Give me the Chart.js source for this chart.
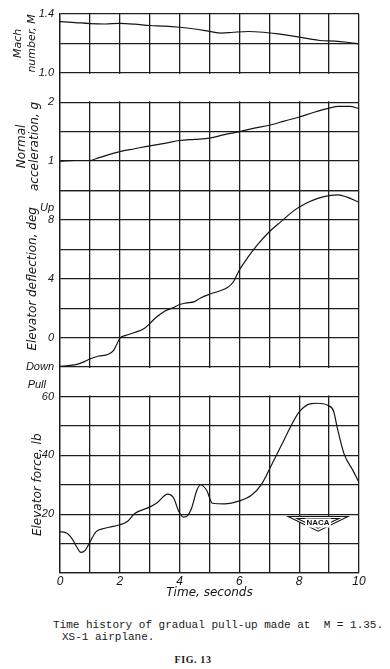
<!DOCTYPE html>
<html>
<head>
<meta charset="utf-8">
<script src="https://cdn.jsdelivr.net/npm/chart.js@4.4.1/dist/chart.umd.min.js"></script>
<style>
  body { margin: 0; background: #fff; }
  #wrap { position: relative; width: 390px; height: 669px; overflow: hidden; }
  #chart { position: absolute; left: 0; top: 0; }
  .caption { position: absolute; left: 53px; font-family: "Liberation Mono", monospace; font-size: 11px; line-height: 12px; color: #1a1a1a; white-space: pre; }
  .fig { position: absolute; left: 0; width: 386px; top: 654px; text-align: center; font-family: "Liberation Serif", serif; font-weight: bold; font-size: 10px; letter-spacing: 0.6px; color: #1a1a1a; }
</style>
</head>
<body>
<div id="wrap">
  <canvas id="chart" width="390" height="610"></canvas>
  <div class="caption" style="top:619px">Time history of gradual pull-up made at  M = 1.35.</div>
  <div class="caption" style="top:631px; left:62px">XS-1 airplane.</div>
  <div class="fig">FIG. 13</div>
</div>
<script>
// values
const timeMach = [0, 0.5, 1, 1.5, 2, 2.5, 3, 3.5, 4, 4.5, 5, 5.4, 5.8, 6.3, 6.8, 7.3, 7.8, 8.3, 8.7, 9.2, 9.6, 10];
const mach = [1.348, 1.342, 1.335, 1.332, 1.336, 1.331, 1.322, 1.318, 1.31, 1.298, 1.282, 1.27, 1.276, 1.281, 1.276, 1.265, 1.25, 1.232, 1.22, 1.216, 1.208, 1.197];

const timeAccel = [0, 0.5, 1, 1.2, 1.5, 2, 2.5, 3, 3.5, 4, 4.5, 5, 5.5, 6, 6.5, 7, 7.5, 8, 8.5, 9, 9.3, 9.7, 10];
const accel = [1.0, 1.01, 1.01, 1.04, 1.09, 1.16, 1.21, 1.26, 1.3, 1.35, 1.37, 1.39, 1.45, 1.5, 1.56, 1.61, 1.68, 1.75, 1.83, 1.9, 1.93, 1.93, 1.89];

const timeDefl = [0, 0.3, 0.6, 0.8, 1.0, 1.3, 1.6, 1.8, 1.9, 2.0, 2.2, 2.5, 2.8, 3.0, 3.2, 3.5, 3.8, 4.0, 4.2, 4.5, 4.7, 5.0, 5.3, 5.6, 5.8, 6.0, 6.3, 6.6, 7.0, 7.4, 7.8, 8.2, 8.6, 9.0, 9.3, 9.6, 10];
const defl = [-1.95, -1.9, -1.8, -1.65, -1.45, -1.25, -1.15, -0.85, -0.45, -0.05, 0.15, 0.35, 0.6, 0.95, 1.35, 1.8, 2.05, 2.25, 2.35, 2.45, 2.7, 2.95, 3.15, 3.4, 3.8, 4.6, 5.5, 6.3, 7.2, 7.9, 8.6, 9.1, 9.45, 9.65, 9.7, 9.55, 9.2];

const timeForce = [0, 0.2, 0.4, 0.55, 0.7, 0.85, 1.0, 1.2, 1.5, 2.0, 2.25, 2.5, 3.0, 3.25, 3.6, 3.8, 3.97, 4.13, 4.27, 4.4, 4.58, 4.7, 4.9, 5.1, 5.5, 6.0, 6.4, 6.75, 7.07, 7.4, 7.75, 8.0, 8.4, 8.6, 8.95, 9.15, 9.27, 9.5, 9.8, 10];
const force = [14, 13.7, 11.7, 9, 7, 7.8, 10.5, 14, 15.2, 16.4, 17.5, 20.2, 22.4, 23.9, 26.8, 25.5, 21, 19, 19.5, 22, 28.2, 30, 28.2, 23.7, 23.5, 24.5, 26.4, 30.3, 36.6, 43.3, 50.5, 54.8, 57.6, 57.7, 57, 55, 49.5, 40.5, 34.8, 30.8];

// which ticks get a label
const timeLabeled = [0, 2, 4, 6, 8, 10];
const machLabeled = [1.0, 1.4];
const accelLabeled = [1, 2];
const deflLabeled = [0, 4, 8];
const forceLabeled = [20, 40, 60];
const upTick = 8.8;     // "Up" sits just above the 8 deg line
const pullTick = 0.4;   // "Pull" sits in the gap band
const openBandTimes = [2, 4, 6, 10];  // vertical lines that run through the lower gap band

const ink = "#151515";
const gridColor = "#1e1e1e";
const tickFont = { family: "Liberation Sans", style: "italic", size: 11 };
const titleFont = { family: "DejaVu Sans", style: "italic", size: 12, lineHeight: 1.15 };

const has = (list, v) => list.some(m => Math.abs(m - v) < 1e-6);
const pts = (xs, ys) => xs.map((t, i) => ({ x: t, y: ys[i] }));

function panelAxis(extra) {
    return Object.assign({
        type: "linear",
        position: "left",
        stack: "panels",
        grid: { color: gridColor, lineWidth: 1.3, drawTicks: false },
        border: { color: gridColor, width: 1.3 },
        ticks: { color: ink, font: tickFont, padding: 6, autoSkip: false },
        afterFit: (axis) => { axis.width = 60; },
    }, extra);
}

const bandGaps = {
    id: "bandGaps",
    beforeDatasetsDraw(chart) {
        const { ctx, chartArea, scales } = chart;
        ctx.save();
        ctx.fillStyle = "#fff";
        const b1 = scales.band1;
        ctx.fillRect(chartArea.left + 1, b1.top + 1, chartArea.width - 2, b1.height - 2);
        const b2 = scales.band2;
        for (let t = 1; t < 10; t++) {
            if (openBandTimes.includes(t)) continue;
            const px = scales.x.getPixelForValue(t);
            ctx.fillRect(px - 2, b2.top + 1, 4, b2.height - 2);
        }
        ctx.restore();
    },
};

const nacaBadge = {
    id: "nacaBadge",
    afterDatasetsDraw(chart) {
        const { ctx, scales } = chart;
        const x = scales.x, y = scales.yForce;
        const l = x.getPixelForValue(7.63), r = x.getPixelForValue(9.63), m = x.getPixelForValue(8.63);
        const top = y.getPixelForValue(19.2), bot = y.getPixelForValue(14.2);
        ctx.save();
        ctx.fillStyle = "#fff";
        ctx.strokeStyle = ink;
        ctx.lineWidth = 1.1;
        ctx.beginPath();
        ctx.moveTo(l, top); ctx.lineTo(r, top); ctx.lineTo(m, bot); ctx.closePath();
        ctx.fill(); ctx.stroke();
        ctx.beginPath();
        ctx.moveTo(l + 9, top + 2); ctx.lineTo(r - 9, top + 2); ctx.lineTo(m, bot - 3); ctx.closePath();
        ctx.stroke();
        ctx.fillRect(m - 13, top + 2, 26, 9);
        ctx.fillStyle = ink;
        ctx.font = "bold 8px 'Liberation Sans'";
        ctx.textAlign = "center";
        ctx.textBaseline = "middle";
        ctx.fillText("NACA", m, top + 6.5);
        ctx.restore();
    },
};

const lineStyle = { borderColor: ink, borderWidth: 1.2, pointRadius: 0, fill: false, cubicInterpolationMode: "monotone" };

new Chart(document.getElementById("chart"), {
    type: "line",
    data: {
        datasets: [
            Object.assign({ label: "Mach number", data: pts(timeMach, mach), yAxisID: "yMach" }, lineStyle),
            Object.assign({ label: "Normal acceleration", data: pts(timeAccel, accel), yAxisID: "yAccel" }, lineStyle),
            Object.assign({ label: "Elevator deflection", data: pts(timeDefl, defl), yAxisID: "yDefl" }, lineStyle),
            Object.assign({ label: "Elevator force", data: pts(timeForce, force), yAxisID: "yForce" }, lineStyle),
        ],
    },
    options: {
        responsive: false,
        animation: false,
        layout: { padding: { top: 14, right: 31, bottom: 7, left: 0 } },
        plugins: { legend: { display: false }, tooltip: { enabled: false } },
        scales: {
            x: {
                type: "linear",
                min: 0,
                max: 10,
                grid: { color: gridColor, lineWidth: 1.3, drawTicks: false },
                border: { color: gridColor, width: 1.3 },
                ticks: {
                    stepSize: 1, autoSkip: false, maxRotation: 0, padding: 1, color: ink,
                    font: { family: "Liberation Sans", style: "italic", size: 12 },
                    callback: (v) => (has(timeLabeled, v) ? String(v) : ""),
                },
                title: { display: true, text: "Time, seconds", color: ink, font: titleFont, padding: { top: 0, bottom: 3 } },
                afterFit: (axis) => { axis.height = 30; },
            },
            yMach: panelAxis({
                weight: 6, stackWeight: 2, min: 1.0, max: 1.4,
                ticks: { color: ink, font: tickFont, padding: 6, autoSkip: false, stepSize: 0.2,
                    callback: (v) => (has(machLabeled, v) ? v.toFixed(1) : "") },
                title: { display: true, text: ["Mach", "number, M"], color: ink,
                    font: { family: "DejaVu Sans", style: "italic", size: 11, lineHeight: 1.3 }, padding: { top: 11, bottom: 0 } },
            }),
            band1: panelAxis({
                weight: 5, stackWeight: 1, min: 0, max: 1,
                grid: { display: false },
                ticks: { display: false },
            }),
            yAccel: panelAxis({
                weight: 4, stackWeight: 3, min: 0.5, max: 2,
                ticks: { color: ink, font: tickFont, padding: 6, autoSkip: false, stepSize: 0.5,
                    callback: (v) => (has(accelLabeled, v) ? String(v) : "") },
                title: { display: true, text: ["Normal", "acceleration, g"], color: ink,
                    font: { family: "DejaVu Sans", style: "italic", size: 12, lineHeight: 1.05 }, padding: { top: 16, bottom: 0 } },
            }),
            yDefl: panelAxis({
                weight: 3, stackWeight: 6, min: -2, max: 10,
                grid: { color: (c) => (c.tick && Math.abs(c.tick.value - upTick) < 1e-6 ? "rgba(0,0,0,0)" : gridColor), lineWidth: 1.3, drawTicks: false },
                ticks: { color: ink, font: tickFont, padding: 6, autoSkip: false, stepSize: 2,
                    callback: (v) => {
                        if (Math.abs(v - upTick) < 1e-6) return "Up";
                        if (v === -2) return "Down";
                        return has(deflLabeled, v) ? String(v) : "";
                    } },
                afterBuildTicks: (axis) => {
                    axis.ticks.push({ value: upTick });
                    axis.ticks.sort((a, b) => a.value - b.value);
                },
                title: { display: true, text: "Elevator deflection, deg", color: ink, font: titleFont, padding: { top: 26, bottom: 0 } },
            }),
            band2: panelAxis({
                weight: 2, stackWeight: 1, min: 0, max: 1,
                grid: { display: false },
                ticks: { color: ink, font: tickFont, padding: 6, autoSkip: false,
                    callback: (v) => (Math.abs(v - pullTick) < 1e-6 ? "Pull" : "") },
                afterBuildTicks: (axis) => { axis.ticks = [{ value: pullTick }]; },
            }),
            yForce: panelAxis({
                weight: 1, stackWeight: 6, min: 0, max: 60,
                ticks: { color: ink, font: tickFont, padding: 6, autoSkip: false, stepSize: 10,
                    callback: (v) => (has(forceLabeled, v) ? String(v) : "") },
                title: { display: true, text: "Elevator force, lb", color: ink, font: titleFont, padding: { top: 31, bottom: 0 } },
            }),
        },
    },
    plugins: [bandGaps, nacaBadge],
});
</script>
</body>
</html>
